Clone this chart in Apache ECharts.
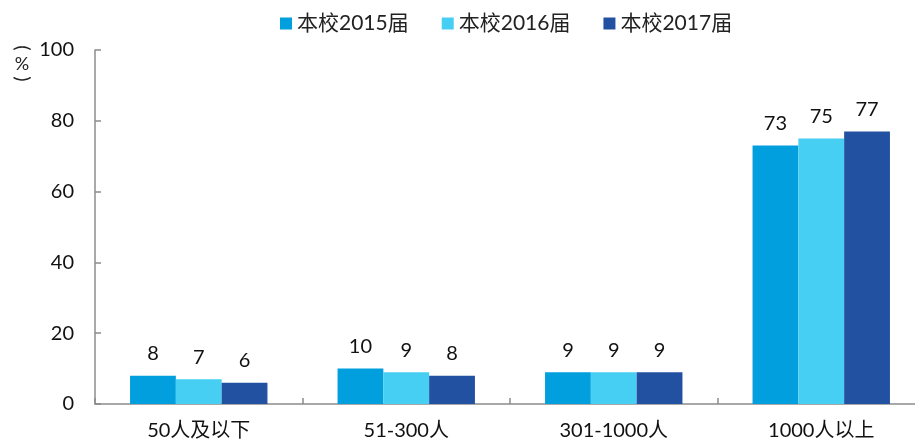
<!DOCTYPE html>
<html><head><meta charset="utf-8">
<script src="https://cdn.jsdelivr.net/npm/echarts@6/dist/echarts.min.js"></script>
<style>html,body{margin:0;padding:0;background:#fff;overflow:hidden}#c{width:935px;height:445px}</style>
</head><body><div id="c"></div>
<script>
const categories = ['50人及以下', '51-300人', '301-1000人', '1000人以上'];
const seriesNames = ['本校2015届', '本校2016届', '本校2017届'];
const s2015 = [8, 10, 9, 73];
const s2016 = [7, 9, 9, 75];
const s2017 = [6, 8, 9, 77];
const yTicks = [0, 20, 40, 60, 80, 100];
const colors = ['#029FDE', '#46CFF3', '#2351A1'];
const FONT = 'Lato, "Noto Sans CJK SC", sans-serif';
const chart = echarts.init(document.getElementById('c'));
const mk = (name, data, color) => ({
  name, type: 'bar', data, barWidth: 45.8, barGap: '0%',
  itemStyle: { color },
  label: { show: true, position: 'top', distance: 12, color: '#111', fontSize: 20, fontFamily: FONT }
});
const parenStyle = { fontSize: 20, fill: '#222', fontFamily: 'Lato, sans-serif', align: 'center', verticalAlign: 'middle' };
chart.setOption({
  animation: false,
  textStyle: { fontFamily: FONT },
  legend: {
    top: 8, left: 275, itemWidth: 12, itemHeight: 12, itemGap: 33,
    icon: 'rect',
    textStyle: { fontSize: 21, color: '#222', fontFamily: FONT },
    data: seriesNames
  },
  graphic: [
    { type: 'text', x: 22, y: 48, rotation: -Math.PI / 2, style: Object.assign({ text: '(' }, parenStyle) },
    { type: 'text', x: 22, y: 64, style: Object.assign({ text: '%' }, parenStyle, { fontSize: 18 }) },
    { type: 'text', x: 22, y: 79, rotation: -Math.PI / 2, style: Object.assign({ text: ')' }, parenStyle) }
  ],
  grid: { left: 95, top: 50, width: 830, height: 354, containLabel: false },
  xAxis: {
    type: 'category', data: categories, boundaryGap: true,
    axisLine: { lineStyle: { color: '#8c8c8c', width: 1.5 } },
    axisTick: { show: true, inside: true, length: 6, lineStyle: { color: '#8c8c8c', width: 1.5 } },
    axisLabel: { fontSize: 20, color: '#111', margin: 17, fontFamily: FONT }
  },
  yAxis: {
    type: 'value', min: yTicks[0], max: yTicks[yTicks.length - 1], interval: 20,
    axisLine: { show: true, lineStyle: { color: '#8c8c8c', width: 1.5 } },
    axisTick: { show: true, inside: true, length: 6, lineStyle: { color: '#8c8c8c', width: 1.5 } },
    splitLine: { show: false },
    axisLabel: { fontSize: 20, color: '#111', margin: 21, fontFamily: FONT }
  },
  series: [mk(seriesNames[0], s2015, colors[0]), mk(seriesNames[1], s2016, colors[1]), mk(seriesNames[2], s2017, colors[2])]
});
</script></body></html>
